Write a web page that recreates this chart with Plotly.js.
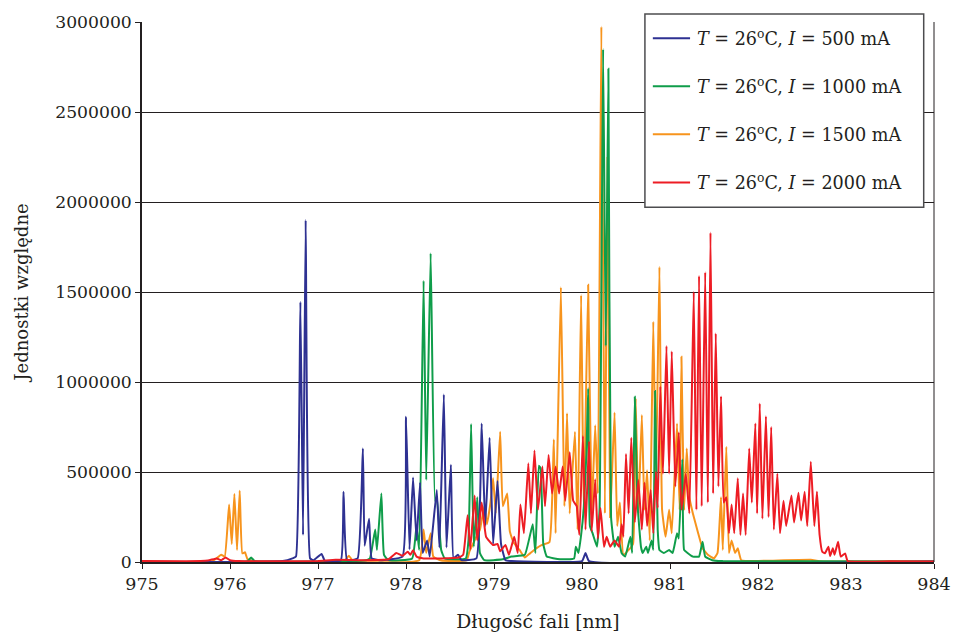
<!DOCTYPE html>
<html>
<head>
<meta charset="utf-8">
<script src="https://cdn.plot.ly/plotly-3.0.1.min.js"></script>
<style>html,body{margin:0;padding:0;background:#fff;}#chart{width:957px;height:633px;}</style>
</head>
<body>
<div id="chart"></div>
<script>
// Wavelength [nm] / relative intensity
const wl500 = [975.00, 976.60, 976.71, 976.75, 976.80, 976.83, 976.86, 976.91, 976.95, 977.04, 977.08, 977.26, 977.29, 977.33, 977.45, 977.51, 977.53, 977.58, 977.61, 977.70, 977.96, 978.00, 978.04, 978.08, 978.12, 978.16, 978.19, 978.24, 978.27, 978.35, 978.38, 978.43, 978.46, 978.51, 978.54, 978.59, 978.63, 978.80, 978.86, 978.90, 978.95, 978.99, 979.04, 979.08, 979.13, 979.20, 980.00, 980.04, 980.08, 984.00];
const i500 = [0, 5000, 20000, 30000, 1446000, 150000, 1900000, 20000, 10000, 45000, 5000, 10000, 390000, 10000, 20000, 630000, 90000, 240000, 20000, 10000, 30000, 807000, 70000, 470000, 120000, 440000, 50000, 120000, 30000, 400000, 80000, 930000, 80000, 540000, 20000, 40000, 10000, 20000, 770000, 200000, 690000, 100000, 450000, 100000, 10000, 5000, 5000, 50000, 5000, 3000];

const wl1000 = [975.00, 976.20, 976.24, 976.28, 977.55, 977.59, 977.65, 977.67, 977.72, 977.75, 977.80, 978.07, 978.12, 978.15, 978.20, 978.23, 978.28, 978.33, 978.35, 978.40, 978.44, 978.68, 978.71, 978.74, 978.77, 978.81, 978.84, 978.89, 979.10, 979.20, 979.35, 979.44, 979.47, 979.51, 979.53, 979.56, 979.60, 979.75, 979.91, 979.93, 979.96, 979.99, 980.02, 980.05, 980.07, 980.09, 980.12, 980.17, 980.20, 980.24, 980.27, 980.30, 980.33, 980.37, 980.41, 980.45, 980.49, 980.55, 980.57, 980.60, 980.63, 980.67, 980.69, 980.73, 980.75, 980.79, 980.81, 980.83, 980.86, 980.88, 980.93, 980.99, 981.03, 981.08, 981.10, 981.14, 981.16, 981.20, 981.26, 981.33, 981.37, 981.40, 981.48, 981.60, 982.60, 984.00];
const i1000 = [3000, 5000, 25000, 5000, 10000, 20000, 180000, 67000, 380000, 40000, 10000, 20000, 200000, 67000, 1563000, 456000, 1715000, 340000, 360000, 67000, 20000, 20000, 120000, 766000, 85000, 360000, 50000, 10000, 15000, 30000, 40000, 210000, 50000, 535000, 520000, 100000, 30000, 15000, 20000, 85000, 50000, 150000, 300000, 600000, 965000, 200000, 160000, 85000, 300000, 2850000, 1200000, 2740000, 250000, 85000, 140000, 50000, 30000, 140000, 50000, 918000, 330000, 85000, 50000, 85000, 50000, 120000, 67000, 950000, 180000, 67000, 50000, 67000, 50000, 160000, 130000, 570000, 67000, 50000, 30000, 30000, 113000, 30000, 10000, 5000, 4000, 3000];

const wl1500 = [975.00, 975.80, 975.90, 975.94, 975.99, 976.02, 976.05, 976.08, 976.11, 976.14, 976.17, 976.20, 976.30, 977.30, 977.35, 977.40, 978.15, 978.20, 978.23, 978.28, 978.31, 978.40, 978.69, 978.72, 978.78, 978.84, 978.89, 978.92, 978.96, 978.99, 979.02, 979.07, 979.10, 979.15, 979.18, 979.22, 979.29, 979.35, 979.41, 979.48, 979.54, 979.63, 979.68, 979.70, 979.76, 979.80, 979.83, 979.86, 979.92, 979.95, 979.99, 980.02, 980.07, 980.11, 980.15, 980.18, 980.22, 980.26, 980.29, 980.32, 980.37, 980.40, 980.43, 980.47, 980.53, 980.58, 980.61, 980.64, 980.68, 980.71, 980.74, 980.77, 980.81, 980.84, 980.88, 980.91, 980.95, 980.99, 981.02, 981.08, 981.11, 981.13, 981.16, 981.19, 981.22, 981.26, 981.32, 981.37, 981.43, 981.50, 981.54, 981.58, 981.60, 981.64, 981.67, 981.70, 981.74, 981.77, 981.81, 982.00, 982.60, 982.70, 984.00];
const i1500 = [2000, 5000, 40000, 30000, 320000, 100000, 378000, 67000, 396000, 48000, 54000, 15000, 4000, 5000, 35000, 5000, 10000, 180000, 50000, 160000, 30000, 8000, 10000, 57000, 120000, 180000, 310000, 210000, 330000, 465000, 270000, 724000, 310000, 380000, 170000, 110000, 67000, 25000, 48000, 76000, 94000, 110000, 680000, 160000, 1526000, 310000, 826000, 270000, 724000, 180000, 1483000, 270000, 1540000, 270000, 760000, 380000, 2975000, 270000, 2250000, 250000, 830000, 200000, 330000, 40000, 67000, 100000, 910000, 270000, 817000, 290000, 510000, 120000, 1335000, 450000, 1640000, 290000, 140000, 290000, 160000, 770000, 290000, 1140000, 290000, 630000, 360000, 270000, 160000, 76000, 40000, 20000, 50000, 360000, 67000, 640000, 50000, 120000, 50000, 76000, 10000, 6000, 12000, 4000, 3000];

const wl2000 = [975.00, 975.50, 975.75, 975.85, 975.90, 975.95, 976.00, 976.10, 976.50, 977.00, 977.20, 977.50, 977.80, 977.89, 977.96, 978.02, 978.05, 978.08, 978.12, 978.20, 978.40, 978.60, 978.65, 978.70, 978.73, 978.78, 978.81, 978.86, 978.91, 978.99, 979.04, 979.07, 979.13, 979.17, 979.23, 979.27, 979.30, 979.34, 979.39, 979.42, 979.46, 979.50, 979.55, 979.58, 979.62, 979.66, 979.70, 979.74, 979.78, 979.81, 979.86, 979.90, 979.94, 979.97, 980.01, 980.04, 980.08, 980.11, 980.15, 980.18, 980.21, 980.25, 980.28, 980.32, 980.37, 980.42, 980.45, 980.47, 980.50, 980.53, 980.56, 980.60, 980.64, 980.68, 980.71, 980.74, 980.78, 980.81, 980.84, 980.86, 980.89, 980.92, 980.96, 980.99, 981.02, 981.06, 981.10, 981.13, 981.18, 981.22, 981.27, 981.30, 981.33, 981.36, 981.40, 981.43, 981.46, 981.49, 981.52, 981.55, 981.58, 981.61, 981.64, 981.67, 981.70, 981.73, 981.77, 981.80, 981.83, 981.86, 981.90, 981.93, 981.97, 981.99, 982.02, 982.05, 982.09, 982.12, 982.15, 982.18, 982.22, 982.25, 982.29, 982.32, 982.38, 982.41, 982.46, 982.49, 982.53, 982.56, 982.60, 982.64, 982.67, 982.70, 982.73, 982.76, 982.80, 982.82, 982.85, 982.87, 982.91, 982.94, 982.99, 983.02, 983.50, 984.00];
const i2000 = [5000, 4000, 8000, 20000, 10000, 25000, 10000, 5000, 4000, 6000, 12000, 10000, 15000, 50000, 35000, 57000, 40000, 65000, 30000, 20000, 20000, 25000, 40000, 260000, 70000, 370000, 120000, 330000, 140000, 94000, 100000, 60000, 95000, 40000, 140000, 50000, 320000, 160000, 548000, 270000, 620000, 290000, 530000, 310000, 595000, 380000, 530000, 380000, 530000, 340000, 610000, 340000, 310000, 150000, 700000, 180000, 670000, 170000, 460000, 130000, 300000, 85000, 140000, 85000, 120000, 85000, 210000, 140000, 600000, 270000, 690000, 220000, 455000, 180000, 440000, 200000, 400000, 160000, 500000, 300000, 975000, 490000, 1200000, 490000, 1170000, 420000, 720000, 290000, 490000, 270000, 1500000, 290000, 1590000, 310000, 1610000, 330000, 1830000, 380000, 1270000, 420000, 920000, 330000, 360000, 160000, 320000, 160000, 465000, 150000, 380000, 150000, 630000, 330000, 770000, 270000, 880000, 240000, 810000, 250000, 750000, 180000, 490000, 160000, 340000, 200000, 370000, 220000, 385000, 230000, 390000, 200000, 557000, 200000, 390000, 150000, 57000, 48000, 85000, 33000, 76000, 40000, 113000, 30000, 48000, 5000, 4000, 3000];

const seriesNames = [
  '<i>T</i> = 26<sup>o</sup>C, <i>I</i> = 500 mA',
  '<i>T</i> = 26<sup>o</sup>C, <i>I</i> = 1000 mA',
  '<i>T</i> = 26<sup>o</sup>C, <i>I</i> = 1500 mA',
  '<i>T</i> = 26<sup>o</sup>C, <i>I</i> = 2000 mA'
];
const xTicks = [975, 976, 977, 978, 979, 980, 981, 982, 983, 984];
const yTicks = [0, 500000, 1000000, 1500000, 2000000, 2500000, 3000000];

const colors = ['#2e3192', '#0f9d4a', '#f7941d', '#ed1c24'];
const xs = [wl500, wl1000, wl1500, wl2000];
const ys = [i500, i1000, i1500, i2000];
const drawOrder = [2, 1, 0, 3];

const traces = drawOrder.map(k => ({
  type: 'scatter', mode: 'lines', x: xs[k], y: ys[k], name: seriesNames[k],
  line: {color: colors[k], width: 2, shape: 'spline', smoothing: 0.35}, hoverinfo: 'x+y'
}));

const ink = '#231f20';
const font = 'DejaVu Serif';

// manual legend (box, samples, labels)
const legX0 = 0.635, legX1 = 0.987, legY0 = 0.657, legY1 = 1.015;
const rowY = [0.970, 0.881, 0.792, 0.703];
const shapes = [
  {type:'line', xref:'paper', yref:'paper', x0:1, x1:1, y0:0, y1:1, line:{color:ink, width:1}},
  {type:'rect', xref:'paper', yref:'paper', x0:legX0, x1:legX1, y0:legY0, y1:legY1,
   fillcolor:'white', line:{color:'#4d4d4f', width:1.5}}
];
const annotations = [];
rowY.forEach((yy, k) => {
  shapes.push({type:'line', xref:'paper', yref:'paper', x0:0.645, x1:0.692, y0:yy, y1:yy,
               line:{color:colors[k], width:2}});
  annotations.push({xref:'paper', yref:'paper', x:0.6985, y:yy, xanchor:'left', yanchor:'middle',
                    showarrow:false, text:seriesNames[k], font:{family:font, size:17.6, color:ink}});
});

const layout = {
  width: 957, height: 633,
  margin: {l: 142, r: 23, t: 22, b: 71},
  paper_bgcolor: 'white', plot_bgcolor: 'white',
  font: {family: font, size: 17, color: ink},
  showlegend: false,
  xaxis: {
    range: [975, 984], tickvals: xTicks, ticktext: xTicks.map(String),
    showgrid: false, zeroline: false, showline: true, linecolor: ink, linewidth: 1.5,
    ticks: 'outside', ticklen: 5, tickcolor: ink, tickwidth: 1,
    tickfont: {family: font, size: 17.5, color: ink},
    title: {text: 'Długość fali [nm]', standoff: 22, font: {family: font, size: 18.8, color: ink}},
    automargin: false
  },
  yaxis: {
    range: [0, 3000000], tickvals: yTicks, ticktext: yTicks.map(String),
    showgrid: true, gridcolor: ink, gridwidth: 1, zeroline: false,
    showline: true, linecolor: ink, linewidth: 1.8,
    ticks: 'outside', ticklen: 5, tickcolor: ink, tickwidth: 1,
    tickfont: {family: font, size: 17.2, color: ink},
    title: {text: 'Jednostki względne', standoff: 22, font: {family: font, size: 18, color: ink}},
    automargin: false
  },
  shapes: shapes,
  annotations: annotations
};

Plotly.newPlot('chart', traces, layout, {displayModeBar: false, staticPlot: true});
</script>
</body>
</html>
